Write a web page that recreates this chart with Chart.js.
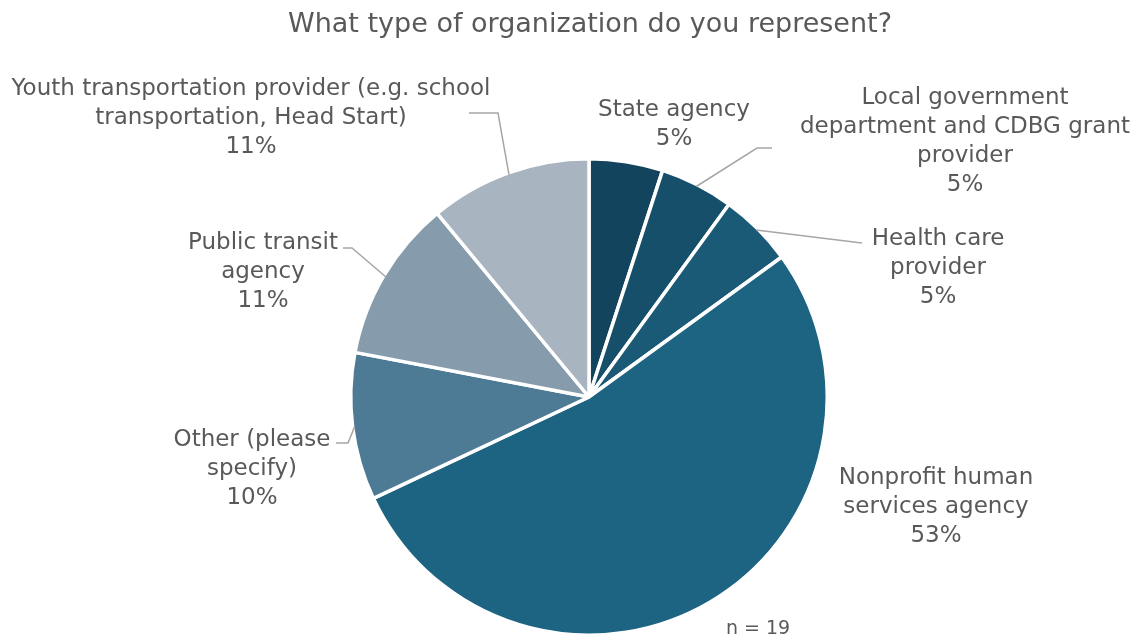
<!DOCTYPE html>
<html>
<head>
<meta charset="utf-8">
<title>Organization type</title>
<script src="https://cdn.jsdelivr.net/npm/chart.js@4.4.1/dist/chart.umd.min.js"></script>
<style>
    html, body { margin: 0; padding: 0; background: #ffffff; }
    #wrap { width: 1143px; height: 637px; position: relative; }
</style>
</head>
<body>
<div id="wrap"><canvas id="orgChart"></canvas></div>
<script>
// Survey answers, clockwise from 12 o'clock
const sliceNames = [
    'State agency',
    'Local government department and CDBG grant provider',
    'Health care provider',
    'Nonprofit human services agency',
    'Other (please specify)',
    'Public transit agency',
    'Youth transportation provider (e.g. school transportation, Head Start)'
];
const slicePercents = [5, 5, 5, 53, 10, 11, 11];
const sliceColors = ['#12445e', '#164f6a', '#1a5a77', '#1d6382', '#4d7a94', '#869cac', '#a8b5c1'];

// How each label is broken into lines
const labelLines = [
    ['State agency'],
    ['Local government', 'department and CDBG grant', 'provider'],
    ['Health care', 'provider'],
    ['Nonprofit human', 'services agency'],
    ['Other (please', 'specify)'],
    ['Public transit', 'agency'],
    ['Youth transportation provider (e.g. school', 'transportation, Head Start)']
];

const chartTitle = 'What type of organization do you represent?';
const sampleNote = 'n = 19';

// Label placement: centre x and baseline of the first line
const labelPos = [
    { x: 674, y: 116 },
    { x: 965, y: 104 },
    { x: 938, y: 245 },
    { x: 936, y: 484 },
    { x: 252, y: 446 },
    { x: 263, y: 249 },
    { x: 251, y: 95 }
];
// Leader line bends, walking from the slice edge outward (null = no leader)
const leaderBends = [
    null,
    [[757, 148], [772, 148]],
    [[862, 243]],
    null,
    [[348, 443], [336, 443]],
    [[352, 248], [343, 248]],
    [[498, 113], [469, 113]]
];

const FONT = '"DejaVu Sans", "Noto Sans", sans-serif';
const TEXT_COLOR = '#595959';

const labelPlugin = {
    id: 'sliceLabels',
    afterDraw(chart) {
        const ctx = chart.ctx;
        const arcs = chart.getDatasetMeta(0).data;
        ctx.save();

        // leader lines
        ctx.strokeStyle = '#a6a6a6';
        ctx.lineWidth = 1.5;
        arcs.forEach((arc, i) => {
            const bends = leaderBends[i];
            if (!bends) return;
            const p = arc.getProps(['x', 'y', 'startAngle', 'endAngle', 'outerRadius'], true);
            const mid = (p.startAngle + p.endAngle) / 2;
            const r = p.outerRadius - 2;
            ctx.beginPath();
            ctx.moveTo(p.x + Math.cos(mid) * r, p.y + Math.sin(mid) * r);
            bends.forEach(b => ctx.lineTo(b[0], b[1]));
            ctx.stroke();
        });

        // slice labels
        ctx.fillStyle = TEXT_COLOR;
        ctx.textAlign = 'center';
        ctx.textBaseline = 'alphabetic';
        ctx.font = '23px ' + FONT;
        labelLines.forEach((lines, i) => {
            const all = lines.concat([slicePercents[i] + '%']);
            all.forEach((t, j) => {
                ctx.fillText(t, labelPos[i].x, labelPos[i].y + j * 29);
            });
        });

        // title and sample size
        ctx.font = '27px ' + FONT;
        ctx.fillText(chartTitle, 590, 32);
        ctx.font = '19px ' + FONT;
        ctx.fillText(sampleNote, 758, 634);
        ctx.restore();
    }
};

new Chart(document.getElementById('orgChart'), {
    type: 'pie',
    data: {
        labels: sliceNames,
        datasets: [{
            data: slicePercents,
            backgroundColor: sliceColors,
            borderColor: '#ffffff',
            borderWidth: 3.5
        }]
    },
    options: {
        responsive: true,
        maintainAspectRatio: false,
        animation: false,
        layout: { padding: { top: 157, bottom: 0, left: 349, right: 314 } },
        plugins: {
            legend: { display: false },
            tooltip: { enabled: false },
            title: { display: false }
        }
    },
    plugins: [labelPlugin]
});
</script>
</body>
</html>
